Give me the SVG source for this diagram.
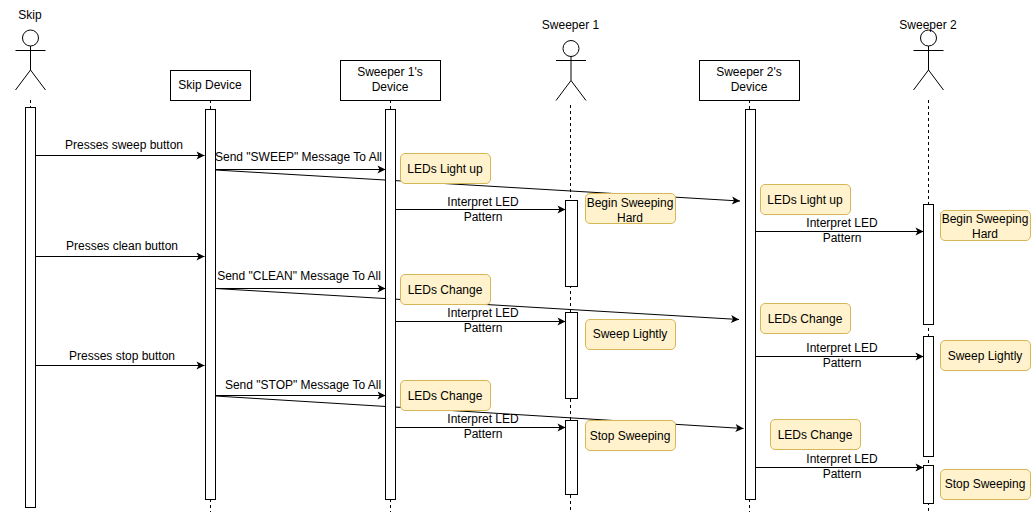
<svg xmlns="http://www.w3.org/2000/svg" width="1031" height="512" viewBox="0 0 1031 512">
<style>
text{font-family:"Liberation Sans",Arial,sans-serif;font-size:12px;fill:#000;text-anchor:middle}
.box{fill:#fff;stroke:#000;stroke-width:1}
.life{fill:none;stroke:#000;stroke-width:1;stroke-dasharray:3 3}
.act{fill:#fff;stroke:#000;stroke-width:1}
.msg{fill:none;stroke:#000;stroke-width:1;marker-end:url(#arrow)}
.note{fill:#fff2cc;stroke:#d6b656;stroke-width:1}
.fig{fill:none;stroke:#000;stroke-width:1}
</style>
<defs>
<marker id="arrow" markerUnits="userSpaceOnUse" markerWidth="12" markerHeight="10" refX="10" refY="5" orient="auto">
<path d="M2 1L10 5L2 9L4 5Z" fill="#000"/>
</marker>
</defs>
<rect width="1031" height="512" fill="#fff"/>
<g id="lifelines">
<path class="life" d="M30.500 100V107"/>
<path class="life" d="M210.500 100V109M210.500 499V512"/>
<path class="life" d="M390.500 100V109M390.500 499V512"/>
<path class="life" d="M570.500 105V512"/>
<path class="life" d="M749.500 100V109M749.500 499V512"/>
<path class="life" d="M928.500 100V512"/>
</g>
<g id="connectors">
<path class="msg" d="M35.500 155.500H204.500"/>
<path class="msg" d="M215.500 169.500H385.500"/>
<path class="msg" d="M215.500 170L740 201"/>
<path class="msg" d="M395.500 209.500H565.500"/>
<path class="msg" d="M755.500 231.500H923.500"/>
<path class="msg" d="M35.500 256.500H204.500"/>
<path class="msg" d="M215.500 288.500H385.500"/>
<path class="msg" d="M215.500 288.500L739 319.500"/>
<path class="msg" d="M395.500 321.500H565.500"/>
<path class="msg" d="M755.500 356.500H923.500"/>
<path class="msg" d="M35.500 365.500H204.500"/>
<path class="msg" d="M215.500 395.500H385.500"/>
<path class="msg" d="M215.500 396L743.500 428.500"/>
<path class="msg" d="M395.500 427.500H565.500"/>
<path class="msg" d="M755.500 467.500H923.500"/>
<text x="124" y="149">Presses sweep button</text>
<text x="298.500" y="161">Send "SWEEP" Message To All</text>
<text x="483" y="206">Interpret LED</text><text x="483" y="221">Pattern</text>
<text x="842" y="227">Interpret LED</text><text x="842" y="242">Pattern</text>
<text x="122" y="250">Presses clean button</text>
<text x="299" y="280">Send "CLEAN" Message To All</text>
<text x="483" y="317">Interpret LED</text><text x="483" y="332">Pattern</text>
<text x="842" y="352">Interpret LED</text><text x="842" y="367">Pattern</text>
<text x="122" y="360">Presses stop button</text>
<text x="303" y="389">Send "STOP" Message To All</text>
<text x="483" y="423">Interpret LED</text><text x="483" y="438">Pattern</text>
<text x="842" y="463">Interpret LED</text><text x="842" y="478">Pattern</text>
</g>
<g id="skip"><text x="30" y="19">Skip</text><circle class="fig" cx="30.500" cy="38" r="8"/><path class="fig" d="M30.500 46V70M15.500 50.500H45.500M30.500 70L15.500 90M30.500 70L45.500 90"/><rect class="act" x="25.500" y="107.500" width="10" height="400"/></g>
<g id="skip-device"><rect class="box" x="170.500" y="70.500" width="80" height="30"/><text x="210" y="89">Skip Device</text><rect class="act" x="205.500" y="109.500" width="10" height="390"/></g>
<g id="sweeper1-device"><rect class="box" x="340.500" y="60.500" width="100" height="40"/><text x="390" y="76">Sweeper 1's</text><text x="390" y="91">Device</text><rect class="act" x="385.500" y="109.500" width="10" height="390"/></g>
<g id="sweeper1"><text x="570.500" y="29">Sweeper 1</text><circle class="fig" cx="571" cy="48.500" r="8"/><path class="fig" d="M571 56.500V80.500M556 60.500H586M571 80.500L556 100.500M571 80.500L586 100.500"/>
<rect class="act" x="565.500" y="200.500" width="12" height="86"/><rect class="act" x="565.500" y="312.500" width="12" height="86"/><rect class="act" x="565.500" y="420.500" width="12" height="74"/></g>
<g id="sweeper2-device"><rect class="box" x="699.500" y="60.500" width="100" height="40"/><text x="749" y="76">Sweeper 2's</text><text x="749" y="91">Device</text><rect class="act" x="745.500" y="109.500" width="10" height="390"/></g>
<g id="sweeper2"><circle class="fig" cx="928.500" cy="38" r="8"/><path class="fig" d="M928.500 46V70M913.500 50.500H943.500M928.500 70L913.500 90M928.500 70L943.500 90"/><text x="928" y="29">Sweeper 2</text>
<rect class="act" x="923.500" y="204.500" width="10" height="120"/><rect class="act" x="923.500" y="336.500" width="10" height="120"/><rect class="act" x="923.500" y="465.500" width="10" height="38"/></g>
<g id="note1"><rect class="note" x="400.500" y="153.500" width="90" height="30" rx="4.500"/><text x="445" y="173">LEDs Light up</text></g>
<g id="note2"><rect class="note" x="585.500" y="193.500" width="90" height="30" rx="4.500"/><text x="630" y="207">Begin Sweeping</text><text x="630" y="222">Hard</text></g>
<g id="note3"><rect class="note" x="760.500" y="184.500" width="90" height="30" rx="4.500"/><text x="805" y="204">LEDs Light up</text></g>
<g id="note4"><rect class="note" x="940.500" y="210.500" width="90" height="30" rx="4.500"/><text x="985" y="223">Begin Sweeping</text><text x="985" y="238">Hard</text></g>
<g id="note5"><rect class="note" x="400.500" y="274.500" width="90" height="30" rx="4.500"/><text x="445" y="294">LEDs Change</text></g>
<g id="note6"><rect class="note" x="585.500" y="319.500" width="90" height="30" rx="4.500"/><text x="630" y="338">Sweep Lightly</text></g>
<g id="note7"><rect class="note" x="760.500" y="303.500" width="90" height="30" rx="4.500"/><text x="805" y="323">LEDs Change</text></g>
<g id="note8"><rect class="note" x="940.500" y="340.500" width="90" height="30" rx="4.500"/><text x="985" y="360">Sweep Lightly</text></g>
<g id="note9"><rect class="note" x="400.500" y="380.500" width="90" height="30" rx="4.500"/><text x="445" y="400">LEDs Change</text></g>
<g id="note10"><rect class="note" x="585.500" y="420.500" width="90" height="30" rx="4.500"/><text x="630" y="440">Stop Sweeping</text></g>
<g id="note11"><rect class="note" x="770.500" y="419.500" width="90" height="30" rx="4.500"/><text x="815" y="439">LEDs Change</text></g>
<g id="note12"><rect class="note" x="940.500" y="469.500" width="90" height="30" rx="4.500"/><text x="985" y="488">Stop Sweeping</text></g>
</svg>
